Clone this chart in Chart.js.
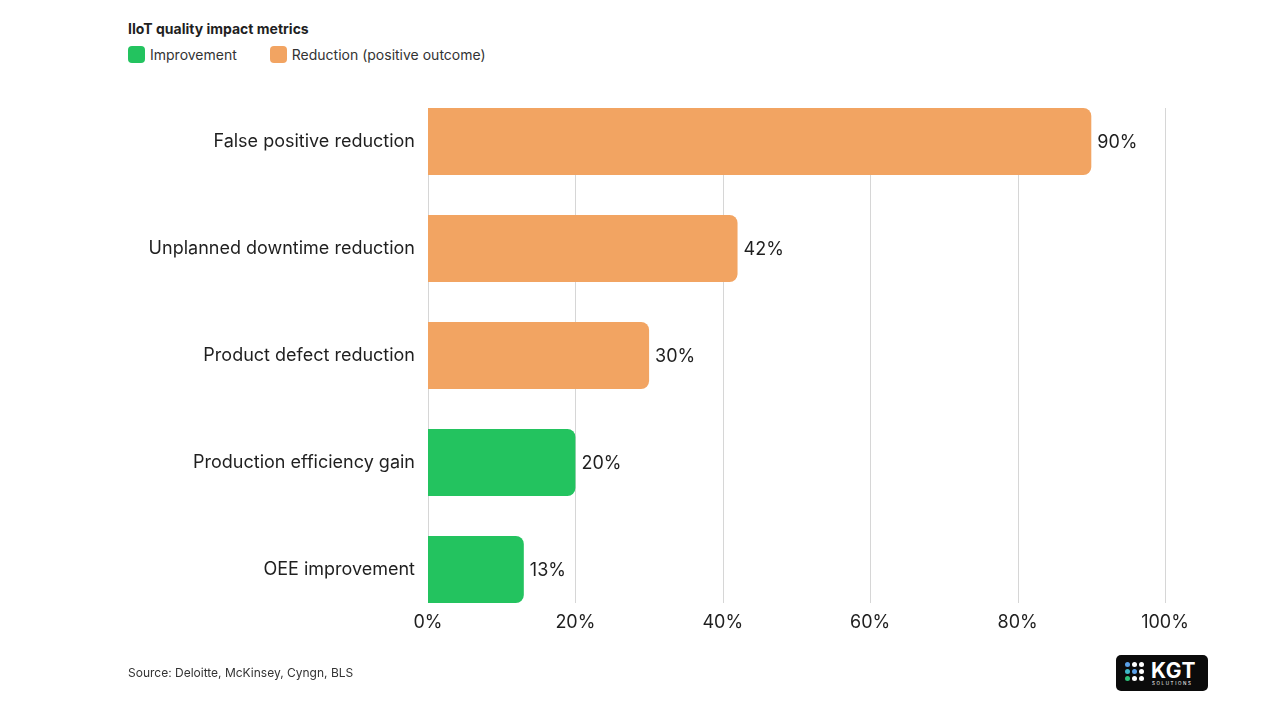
<!DOCTYPE html>
<html>
<head>
<meta charset="utf-8">
<script src="https://cdn.jsdelivr.net/npm/chart.js@4"></script>
<style>
  html, body { margin: 0; padding: 0; background: #fff; }
  body { width: 1280px; height: 720px; position: relative; overflow: hidden; font-family: Inter, "Noto Sans", sans-serif; color: #1f1f1f; }
  #wrap { position: absolute; left: 0; top: 0; width: 1280px; height: 720px; }
  .title { position: absolute; left: 128px; top: 20px; font-size: 14px; font-weight: 700; }
  .legend { position: absolute; left: 128px; top: 46px; font-size: 14px; color: #333; display: flex; }
  .legend span { display: flex; align-items: center; margin-right: 33px; }
  .legend i { width: 17px; height: 17px; border-radius: 4px; display: inline-block; margin-right: 5px; }
  .source { position: absolute; left: 128px; top: 665px; font-size: 12px; color: #333; }
  .logo { position: absolute; left: 1116px; top: 655px; width: 92px; height: 36px; background: #0b0b0b; border-radius: 5px; color: #fff; }
  .logo .dots { position: absolute; left: 9px; top: 7px; display: grid; grid-template-columns: repeat(3, 5px); gap: 2px; }
  .logo .dots b { width: 5px; height: 5px; border-radius: 50%; display: block; }
  .logo .k { position: absolute; left: 35px; top: 3px; font-size: 21px; font-weight: 700; letter-spacing: 0.5px; }
  .logo .s { position: absolute; left: 36px; top: 26px; font-size: 4.5px; letter-spacing: 1.6px; }
</style>
</head>
<body>
<div class="title">IIoT quality impact metrics</div>
<div class="legend">
  <span><i style="background:#23c35f"></i>Improvement</span>
  <span><i style="background:#f2a462"></i>Reduction (positive outcome)</span>
</div>
<div id="wrap"><canvas id="chart"></canvas></div>
<div class="source">Source: Deloitte, McKinsey, Cyngn, BLS</div>
<div class="logo">
  <div class="dots">
    <b style="background:#5aa0e8"></b><b style="background:#fff"></b><b style="background:#fff"></b>
    <b style="background:#3fb8c8"></b><b style="background:#5aa0e8"></b><b style="background:#fff"></b>
    <b style="background:#2ec27a"></b><b style="background:#fff"></b><b style="background:#fff"></b>
  </div>
  <div class="k">KGT</div>
  <div class="s">SOLUTIONS</div>
</div>
<script>
const metrics = [
    "False positive reduction",
    "Unplanned downtime reduction",
    "Product defect reduction",
    "Production efficiency gain",
    "OEE improvement"
];
const values = [90, 42, 30, 20, 13];
const kinds = ["reduction", "reduction", "reduction", "improvement", "improvement"];
const xTicks = [0, 20, 40, 60, 80, 100];

const kindColors = {
    "improvement": "#23c35f",
    "reduction": "#f2a462"
};

// grid lines only span from top of first bar to bottom of last bar
const gridPlugin = {
    id: 'shortGrid',
    beforeDatasetsDraw(chart) {
        const bars = chart.getDatasetMeta(0).data;
        if (!bars.length) return;
        const top = bars[0].y - bars[0].height / 2;
        const last = bars[bars.length - 1];
        const bottom = last.y + last.height / 2;
        const ctx = chart.ctx;
        const x = chart.scales.x;
        ctx.save();
        ctx.strokeStyle = '#d6d6d6';
        ctx.lineWidth = 1;
        xTicks.forEach(t => {
            const px = Math.round(x.getPixelForValue(t)) + 0.5;
            ctx.beginPath();
            ctx.moveTo(px, top);
            ctx.lineTo(px, bottom);
            ctx.stroke();
        });
        ctx.restore();
    }
};

const valueLabels = {
    id: 'valueLabels',
    afterDatasetsDraw(chart) {
        const ctx = chart.ctx;
        ctx.save();
        ctx.font = '18px Inter, "Noto Sans", sans-serif';
        ctx.fillStyle = '#1f1f1f';
        ctx.textAlign = 'left';
        ctx.textBaseline = 'middle';
        chart.getDatasetMeta(0).data.forEach((bar, i) => {
            ctx.fillText(values[i] + '%', bar.x + 6, bar.y + 1);
        });
        ctx.restore();
    }
};

const ctx = document.getElementById('chart').getContext('2d');
new Chart(ctx, {
    type: 'bar',
    data: {
        labels: metrics,
        datasets: [{
            data: values,
            backgroundColor: kinds.map(k => kindColors[k]),
            borderRadius: 8,
            borderSkipped: 'start',
            barPercentage: 0.626,
            categoryPercentage: 1,
            clip: false
        }]
    },
    options: {
        indexAxis: 'y',
        responsive: true,
        maintainAspectRatio: false,
        animation: false,
        layout: { padding: { top: 141.5, right: 115, left: 0, bottom: 0 } },
        plugins: {
            legend: { display: false },
            tooltip: { enabled: false }
        },
        scales: {
            x: {
                min: 0,
                max: 100,
                afterBuildTicks: scale => { scale.ticks = xTicks.map(v => ({ value: v })); },
                afterFit: scale => { scale.height = 150.5; },
                grid: { display: false, drawTicks: false },
                border: { display: false },
                ticks: {
                    padding: 42,
                    color: '#1f1f1f',
                    font: { family: 'Inter', size: 18 },
                    callback: v => v + '%'
                }
            },
            y: {
                offset: false,
                afterFit: scale => { scale.width = 428; },
                grid: { display: false, drawTicks: false },
                border: { display: false },
                ticks: {
                    padding: 13,
                    color: '#1f1f1f',
                    font: { family: 'Inter', size: 18 }
                }
            }
        }
    },
    plugins: [gridPlugin, valueLabels]
});
</script>
</body>
</html>
